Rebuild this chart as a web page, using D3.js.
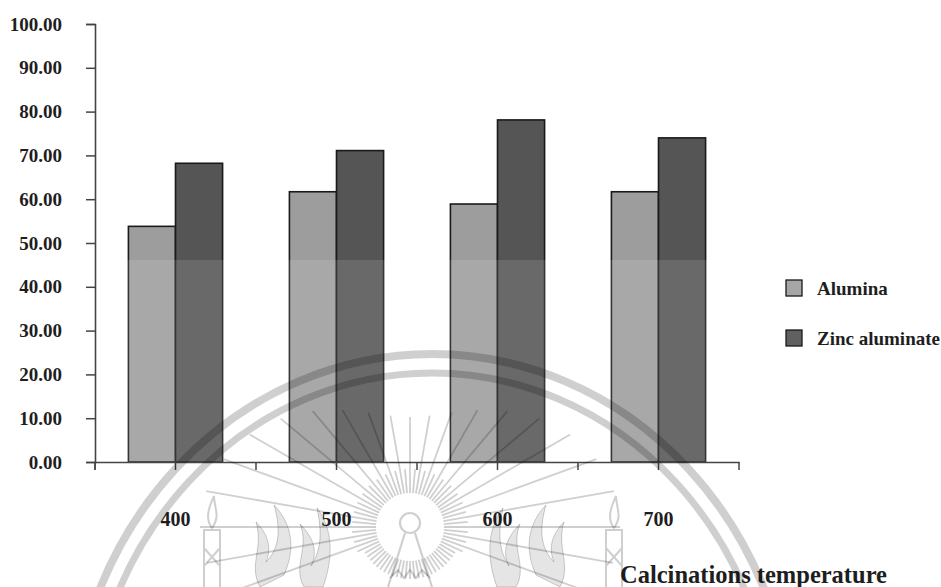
<!DOCTYPE html>
<html>
<head>
<meta charset="utf-8">
<script src="https://cdn.jsdelivr.net/npm/d3@7/dist/d3.min.js"></script>
<style>
  html, body { margin: 0; padding: 0; background: #ffffff; }
  svg { display: block; }
  text { font-family: "Liberation Serif", "Times New Roman", serif; font-weight: bold; fill: #1e1e1e; }
</style>
</head>
<body>
<svg id="chart" width="941" height="587"></svg>
<script>
// Calcination temperatures (°C) on the category axis
const categories = ["400", "500", "600", "700"];
// Series values
const alumina = [53.8, 61.7, 58.9, 61.7];
const zincAluminate = [68.2, 71.1, 78.1, 74.0];
const seriesNames = ["Alumina", "Zinc aluminate"];
const yTicks = [0, 10, 20, 30, 40, 50, 60, 70, 80, 90, 100];
const xTitle = "Calcinations temperature";

const svg = d3.select("#chart");
const colors = { "Alumina": "#9d9d9d", "Zinc aluminate": "#555555" };
const legendColors = { "Alumina": "#a6a6a6", "Zinc aluminate": "#606060" };
const seriesData = { "Alumina": alumina, "Zinc aluminate": zincAluminate };

const plot = { left: 95, right: 739, top: 24, bottom: 462 };

const x0 = d3.scaleBand()
  .domain(categories)
  .range([plot.left, plot.right])
  .paddingInner(0.415)
  .paddingOuter(0.2075);
const x1 = d3.scaleBand()
  .domain(seriesNames)
  .range([0, x0.bandwidth()]);
const y = d3.scaleLinear().domain([0, 100]).range([plot.bottom, plot.top]);

// ---- Bars ----
const groups = svg.append("g").selectAll("g")
  .data(categories)
  .join("g")
  .attr("transform", d => `translate(${x0(d)},0)`);

groups.selectAll("rect")
  .data((d, i) => seriesNames.map(s => ({ s, v: seriesData[s][i] })))
  .join("rect")
  .attr("x", d => x1(d.s))
  .attr("y", d => y(d.v))
  .attr("width", x1.bandwidth())
  .attr("height", d => y(0) - y(d.v))
  .attr("fill", d => colors[d.s])
  .attr("stroke", "#1a1a1a")
  .attr("stroke-width", 1.6);

// softer, lighter tone across the lower part of the plot
svg.append("rect")
  .attr("x", plot.left).attr("y", 260)
  .attr("width", plot.right - plot.left).attr("height", plot.bottom - 260)
  .attr("fill", "#ffffff").attr("opacity", 0.12);

// ---- Y axis ----
const yAxis = svg.append("g")
  .attr("transform", `translate(${plot.left},0)`)
  .call(d3.axisLeft(y).tickValues(yTicks).tickFormat(d3.format(".2f")).tickSize(9).tickPadding(24));
yAxis.selectAll("text").attr("font-size", 19).style("fill", "#1e1e1e");
yAxis.select(".domain").attr("stroke", "#444").attr("stroke-width", 1.6);
yAxis.selectAll(".tick line").attr("stroke", "#444").attr("stroke-width", 1.5);
// short extension of the y axis line below zero
svg.append("line")
  .attr("x1", plot.left).attr("x2", plot.left)
  .attr("y1", plot.bottom).attr("y2", plot.bottom + 8)
  .attr("stroke", "#444").attr("stroke-width", 1.5);

// ---- X axis: ticks at category centres and boundaries ----
const xAxis = svg.append("g")
  .attr("transform", `translate(0,${plot.bottom})`)
  .call(d3.axisBottom(x0).tickSize(8).tickPadding(42).tickSizeOuter(0));
xAxis.select(".domain").attr("stroke", "#444").attr("stroke-width", 1.6);
xAxis.selectAll(".tick line").attr("stroke", "#444").attr("stroke-width", 1.5);
xAxis.selectAll("text").attr("font-size", 20).style("fill", "#1e1e1e");

const step = x0.step();
const boundaries = d3.range(categories.length + 1).map(i => plot.left + i * step);
svg.append("g").selectAll("line")
  .data(boundaries)
  .join("line")
  .attr("x1", d => d).attr("x2", d => d)
  .attr("y1", plot.bottom).attr("y2", plot.bottom + 8)
  .attr("stroke", "#444").attr("stroke-width", 1.5);

// axis title
svg.append("text")
  .attr("x", 620).attr("y", 583)
  .attr("font-size", 24.5)
  .text(xTitle);

// ---- Legend ----
const legend = svg.append("g").attr("transform", "translate(786,280)");
const li = legend.selectAll("g").data(seriesNames).join("g")
  .attr("transform", (d, i) => `translate(0,${i * 50})`);
li.append("rect")
  .attr("width", 16).attr("height", 16)
  .attr("fill", d => legendColors[d])
  .attr("stroke", "#1a1a1a").attr("stroke-width", 1.3);
li.append("text")
  .attr("x", 31).attr("y", 14.5)
  .attr("font-size", 19)
  .text(d => d);

// ---- Faint emblem drawn over the figure ----
const mark = svg.append("g")
  .attr("fill", "none")
  .attr("stroke", "#000")
  .attr("stroke-opacity", 0.19)
  .style("pointer-events", "none");

// two concentric arcs
const arcCx = 432, arcCy = 744;
mark.append("ellipse").attr("cx", arcCx).attr("cy", arcCy).attr("rx", 362).attr("ry", 390).attr("stroke-width", 8);
mark.append("ellipse").attr("cx", arcCx).attr("cy", arcCy).attr("rx", 344).attr("ry", 371).attr("stroke-width", 7);

// sunburst
const sc = { x: 410, y: 527 };
const rayAngles = d3.range(0, 360, 5);
mark.append("g").selectAll("line")
  .data(rayAngles)
  .join("line")
  .each(function (a, i) {
    const rad = a * Math.PI / 180;
    const s = Math.sin(rad);
    const side = Math.abs(Math.cos(rad));
    let r0 = 34, r1;
    if (s < 0.05) {
      r1 = (i % 2 === 0) ? 110 + 100 * side * side : 58;
    } else if (s < 0.45) {
      r1 = (i % 2 === 0) ? 80 + 130 * side * side : 58;
    } else {
      r1 = 52;
    }
    d3.select(this)
      .attr("x1", sc.x + r0 * Math.cos(rad)).attr("y1", sc.y + r0 * s)
      .attr("x2", sc.x + r1 * Math.cos(rad)).attr("y2", sc.y + r1 * s);
  })
  .attr("stroke-width", 1.8);

// tower
mark.append("circle").attr("cx", sc.x).attr("cy", sc.y - 4).attr("r", 10).attr("stroke-width", 2.2);
mark.append("path")
  .attr("d", `M${sc.x - 5},${sc.y + 6} L${sc.x - 22},587 M${sc.x + 5},${sc.y + 6} L${sc.x + 22},587`)
  .attr("stroke-width", 2.2);
mark.append("path")
  .attr("d", `M${sc.x - 20},578 l8,-8 l6,8 l6,-8 l6,8 l6,-8 l8,8`)
  .attr("stroke-width", 2);

// candles
[212, 614].forEach(c => {
  mark.append("path")
    .attr("d", `M${c - 8},587 L${c - 8},530 L${c + 8},530 L${c + 8},587 M${c - 8},548 L${c + 8},566 M${c + 8},548 L${c - 8},566`)
    .attr("stroke-width", 2);
  mark.append("path")
    .attr("d", `M${c},528 C${c - 8},518 ${c - 2},505 ${c + 2},496 C${c + 2},508 ${c + 9},516 ${c},528 Z`)
    .attr("stroke-width", 2);
});

// flame ornaments
[[290, 1], [530, -1]].forEach(([fx, dir]) => {
  const g = mark.append("g").attr("transform", `translate(${fx},0) scale(${dir},1)`);
  g.append("path")
    .attr("d", "M-30,587 C-42,565 -26,548 -34,522 C-22,534 -18,548 -24,562 C-12,550 -8,532 -16,505 C2,524 6,548 -6,575 Z")
    .attr("fill", "#000").attr("fill-opacity", 0.1).attr("stroke-width", 1);
  g.append("path")
    .attr("d", "M14,587 C2,566 20,548 10,524 C24,538 28,552 21,566 C30,552 33,536 27,508 C45,532 42,562 33,587 Z")
    .attr("fill", "#000").attr("fill-opacity", 0.1).attr("stroke-width", 1);
});
</script>
</body>
</html>
